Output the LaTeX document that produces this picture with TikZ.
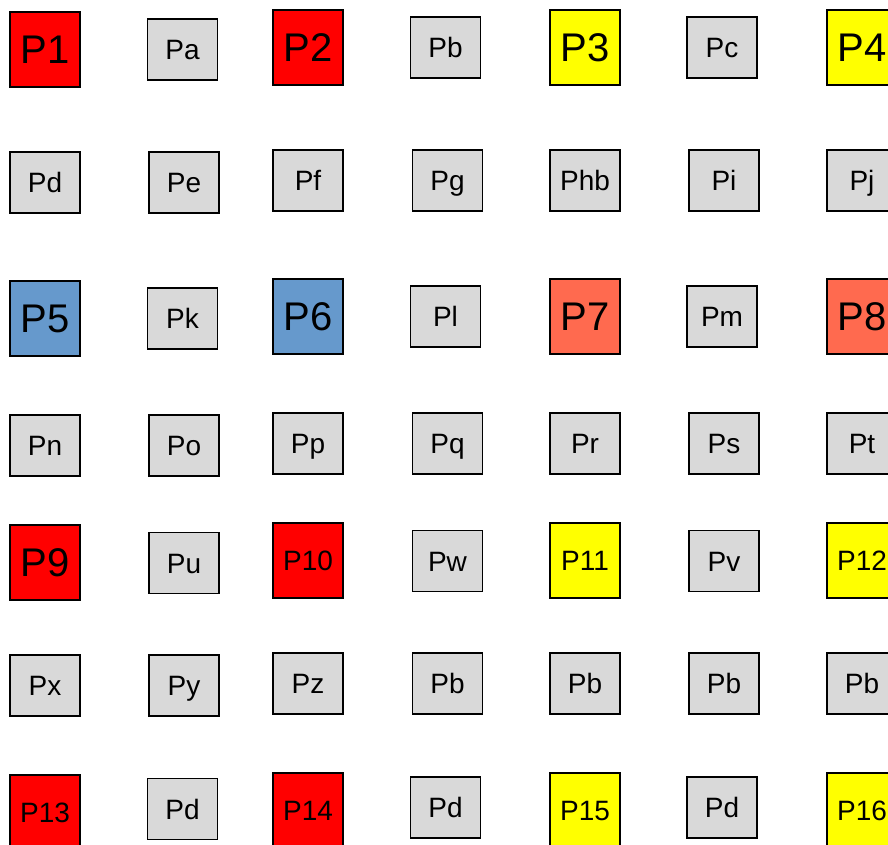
\documentclass[tikz,border=0pt]{standalone}
\usepackage{fontspec}
\setmainfont{Liberation Sans}
\usepackage{xcolor}
\usepackage{tikz}

\definecolor{pred}{HTML}{FF0000}
\definecolor{pyellow}{HTML}{FFFF00}
\definecolor{pblue}{HTML}{6699CC}
\definecolor{ptomato}{HTML}{FF6A4F}
\definecolor{pgray}{HTML}{D9D9D9}

\begin{document}
\begin{tikzpicture}[
    x=1pt, y=-1pt,
    big/.style={rectangle, draw, line width=1.5pt, inner sep=0pt, text height=28.6pt, text depth=0pt, minimum width=70pt, minimum height=75pt, font=\fontsize{40}{42}\selectfont},
    bigsmall/.style={big, text height=20pt, font=\fontsize{28}{30}\selectfont},
    cell/.style={rectangle, draw, line width=1.5pt, fill=pgray, inner sep=0pt, text height=20pt, text depth=0pt, minimum width=70pt, minimum height=61pt, font=\fontsize{28}{30}\selectfont}
]
\useasboundingbox (0,0) rectangle (888,845);

% row 1
\node [big, fill=pred] (p1) at (45,49.5) {P1};
\node [cell] (pa) at (182.5,49.5) {Pa};
\node [big, fill=pred] (p2) at (308,47.5) {P2};
\node [cell] (pb1) at (445.5,47.5) {Pb};
\node [big, fill=pyellow] (p3) at (585,47.5) {P3};
\node [cell] (pc) at (722,47.5) {Pc};
\node [big, fill=pyellow] (p4) at (862,47.5) {P4};

% row 2
\node [cell] (pd1) at (45,182.5) {Pd};
\node [cell] (pe) at (184,182.5) {Pe};
\node [cell] (pf) at (308,180.5) {Pf};
\node [cell] (pg) at (447.5,180.5) {Pg};
\node [cell] (phb) at (585,180.5) {Phb};
\node [cell] (pi) at (724,180.5) {Pi};
\node [cell] (pj) at (862,180.5) {Pj};

% row 3
\node [big, fill=pblue] (p5) at (45,318.5) {P5};
\node [cell] (pk) at (182.5,318.5) {Pk};
\node [big, fill=pblue] (p6) at (308,316.5) {P6};
\node [cell] (pl) at (445.5,316.5) {Pl};
\node [big, fill=ptomato] (p7) at (585,316.5) {P7};
\node [cell] (pm) at (722,316.5) {Pm};
\node [big, fill=ptomato] (p8) at (862,316.5) {P8};

% row 4
\node [cell] (pn) at (45,445.5) {Pn};
\node [cell] (po) at (184,445.5) {Po};
\node [cell] (pp) at (308,443.5) {Pp};
\node [cell] (pq) at (447.5,443.5) {Pq};
\node [cell] (pr) at (585,443.5) {Pr};
\node [cell] (ps) at (724,443.5) {Ps};
\node [cell] (pt) at (862,443.5) {Pt};

% row 5
\node [big, fill=pred] (p9) at (45,562.5) {P9};
\node [cell] (pu) at (184,563) {Pu};
\node [bigsmall, fill=pred] (p10) at (308,560.5) {P10};
\node [cell] (pw) at (447.5,561) {Pw};
\node [bigsmall, fill=pyellow] (p11) at (585,560.5) {P11};
\node [cell] (pv) at (724,561) {Pv};
\node [bigsmall, fill=pyellow] (p12) at (862,560.5) {P12};

% row 6
\node [cell] (px) at (45,685.5) {Px};
\node [cell] (py) at (184,685.5) {Py};
\node [cell] (pz) at (308,683.5) {Pz};
\node [cell] (pb2) at (447.5,683.5) {Pb};
\node [cell] (pb3) at (585,683.5) {Pb};
\node [cell] (pb4) at (724,683.5) {Pb};
\node [cell] (pb5) at (862,683.5) {Pb};

% row 7
\node [bigsmall, fill=pred] (p13) at (45,812.5) {P13};
\node [cell] (pd2) at (182.5,809) {Pd};
\node [bigsmall, fill=pred] (p14) at (308,810.5) {P14};
\node [cell] (pd3) at (445.5,807.5) {Pd};
\node [bigsmall, fill=pyellow] (p15) at (585,810.5) {P15};
\node [cell] (pd4) at (722,807.5) {Pd};
\node [bigsmall, fill=pyellow] (p16) at (862,810.5) {P16};

\end{tikzpicture}
\end{document}
